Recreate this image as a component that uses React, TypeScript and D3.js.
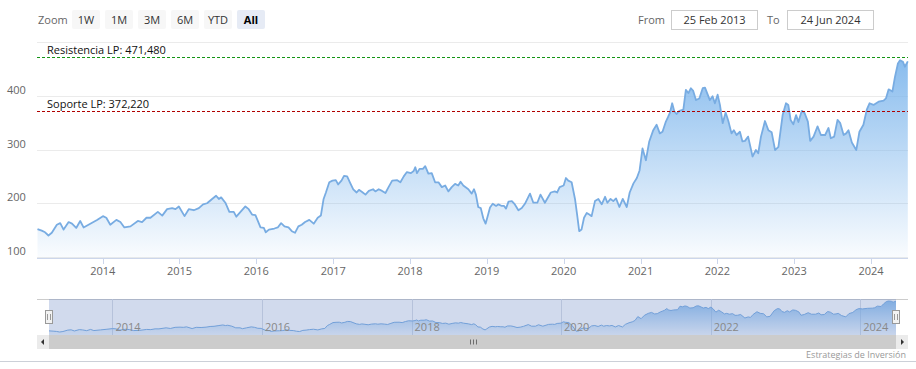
import * as d3 from 'd3';

// weekly-ish closes
const dates: string[] = [
  "2013-02-25","2013-03-17","2013-04-02","2013-04-18","2013-05-04","2013-05-28","2013-06-13","2013-06-29","2013-07-23","2013-08-08","2013-08-28","2013-09-16","2013-10-02","2013-11-03","2013-12-05",
  "2014-01-02","2014-01-18","2014-02-06","2014-03-07","2014-03-26","2014-04-14","2014-05-13","2014-06-17","2014-07-07","2014-07-28","2014-08-16","2014-09-20","2014-10-11","2014-11-03","2014-11-27","2014-12-13","2014-12-29",
  "2015-01-25","2015-02-14","2015-03-10","2015-04-03","2015-04-23","2015-05-12","2015-06-05","2015-06-24","2015-07-07","2015-07-18","2015-08-07","2015-08-26","2015-09-16","2015-09-28","2015-10-18","2015-11-10","2015-11-26","2015-12-12","2015-12-28",
  "2016-01-21","2016-02-06","2016-02-15","2016-03-01","2016-03-27","2016-04-12","2016-04-28","2016-05-14","2016-06-02","2016-06-18","2016-07-03","2016-07-19","2016-08-04","2016-08-20","2016-09-09","2016-09-30","2016-10-19","2016-11-03","2016-11-16","2016-11-27","2016-12-13","2016-12-28",
  "2017-01-13","2017-01-24","2017-02-09","2017-02-21","2017-03-08","2017-03-21","2017-04-06","2017-04-22","2017-05-03","2017-05-18","2017-06-03","2017-06-19","2017-07-09","2017-07-20","2017-08-05","2017-08-21","2017-09-06","2017-09-22","2017-10-08","2017-11-01","2017-11-16","2017-12-02","2017-12-17",
  "2018-01-05","2018-01-18","2018-01-26","2018-02-03","2018-02-15","2018-03-03","2018-03-14","2018-03-29","2018-04-14","2018-04-30","2018-05-16","2018-06-01","2018-06-17","2018-07-02","2018-07-18","2018-08-03","2018-08-18","2018-08-29","2018-09-11","2018-10-05","2018-10-21","2018-11-01","2018-11-10","2018-11-21","2018-12-03","2018-12-15","2018-12-26",
  "2019-01-03","2019-01-16","2019-01-29","2019-02-14","2019-02-25","2019-03-13","2019-03-24","2019-04-02","2019-04-14","2019-04-30","2019-05-12","2019-05-31","2019-06-16","2019-07-01","2019-07-25","2019-08-10","2019-08-29","2019-09-13","2019-10-04","2019-11-01","2019-11-20","2019-12-01","2019-12-13",
  "2020-01-01","2020-01-12","2020-01-23","2020-02-08","2020-02-24","2020-03-06","2020-03-15","2020-03-26","2020-04-07","2020-04-20","2020-05-02","2020-05-13","2020-05-29","2020-06-14","2020-06-30","2020-07-16","2020-07-27","2020-08-11","2020-08-24","2020-09-06","2020-09-22","2020-10-08","2020-10-27","2020-11-10","2020-11-28","2020-12-14","2020-12-27",
  "2021-01-10","2021-01-26","2021-02-11","2021-03-02","2021-03-18","2021-04-02","2021-04-15","2021-05-01","2021-05-12","2021-05-20","2021-05-31","2021-06-10","2021-06-21","2021-07-04","2021-07-23","2021-08-04","2021-08-16","2021-08-28","2021-09-08","2021-09-21","2021-10-07","2021-10-23","2021-11-03","2021-11-15","2021-11-26","2021-12-09","2021-12-20",
  "2022-01-02","2022-01-13","2022-01-26","2022-02-09","2022-02-22","2022-03-09","2022-03-20","2022-04-02","2022-04-18","2022-04-30","2022-05-12","2022-05-27","2022-06-17","2022-07-03","2022-07-14","2022-07-27","2022-08-15","2022-08-31","2022-09-16","2022-10-02","2022-10-18","2022-11-07","2022-11-23","2022-12-04","2022-12-15","2022-12-28",
  "2023-01-10","2023-01-21","2023-02-06","2023-02-19","2023-03-07","2023-03-18","2023-04-03","2023-04-22","2023-05-08","2023-05-28","2023-06-13","2023-06-24","2023-07-10","2023-07-26","2023-08-08","2023-08-24","2023-09-05","2023-09-16","2023-10-02","2023-10-23","2023-11-07","2023-11-26","2023-12-12","2023-12-25",
  "2024-01-13","2024-02-06","2024-03-01","2024-03-12","2024-03-25","2024-04-12","2024-04-24","2024-05-08","2024-05-18","2024-06-01","2024-06-10","2024-06-24",
];

const closes: number[] = [
  152,149,146,140,145,160,163,151,165,162,154,167,155,162,169,
  176,173,160,169,165,155,157,167,165,173,173,184,177,189,191,189,194,
  176,189,187,191,198,200,208,214,208,211,201,184,184,175,184,194,189,179,178,
  155,154,146,151,153,155,163,157,155,148,145,157,160,165,169,162,173,177,208,220,239,242,
  243,235,242,251,250,239,226,220,225,221,216,223,226,222,226,223,219,231,242,243,239,250,258,
  256,260,267,256,264,264,269,255,256,239,239,230,233,222,230,236,233,240,233,226,218,226,216,193,191,172,162,
  173,192,199,195,198,195,195,190,203,204,199,187,191,199,218,201,201,216,201,220,222,220,230,
  233,247,242,239,208,176,148,151,173,182,179,176,204,208,198,212,201,208,204,209,193,208,193,220,237,247,261,
  302,280,315,336,346,330,333,352,361,368,386,371,366,372,374,411,405,414,409,392,395,414,415,403,392,399,386,
  402,383,349,369,353,330,336,327,333,315,316,324,287,299,293,324,353,336,332,299,305,364,386,383,355,347,
  364,351,372,368,352,316,324,343,327,327,340,321,324,355,349,327,330,336,313,299,333,346,374,386,
  383,389,391,395,412,408,435,460,466,463,454,464,
];

const yTicks = [100, 200, 300, 400, 500];
const zoomButtons = ["1W", "1M", "3M", "6M", "YTD", "All"];
const plotLineLabels = ["Resistencia LP: 471,480", "Soporte LP: 372,220"];
const plotLineValues = [471.48, 372.22];
const plotLineColors = ["#149414", "#b00000"];
const rangeFrom = "25 Feb 2013";
const rangeTo = "24 Jun 2024";

const W = 916, H = 369;
const font = "'Open Sans', 'Noto Sans', sans-serif";

const App = () => {
  const parse = d3.timeParse("%Y-%m-%d");
  const data = dates.map((d, i) => ({ date: parse(d) as Date, value: closes[i] }));
  const start = parse("2013-02-25") as Date;
  const end = parse("2024-06-24") as Date;

  const plotTop = 42, plotBottom = 258, plotLeft = 37, plotRight = 908;

  const x = d3.scaleTime().domain([start, end]).range([37.5, 907.8]);
  const y = d3.scaleLinear().domain([100, 500]).range([257, 42]);

  const area = d3.area<any>()
    .x(d => x(d.date))
    .y0(plotBottom)
    .y1(d => y(d.value));
  const line = d3.line<any>()
    .x(d => x(d.date))
    .y(d => y(d.value));

  // navigator
  const navTop = 299, navBottom = 335, navLeft = 49, navRight = 896;
  const xn = d3.scaleTime().domain([start, end]).range([navLeft, navRight]);
  const yn = d3.scaleLinear()
    .domain([d3.min(closes) as number, d3.max(closes) as number])
    .range([332, 301]);
  const navArea = d3.area<any>()
    .x(d => xn(d.date))
    .y0(navBottom)
    .y1(d => yn(d.value));
  const navLine = d3.line<any>()
    .x(d => xn(d.date))
    .y(d => yn(d.value));

  const yearTicks = x.ticks(d3.timeYear.every(1) as any);
  const navTicks = xn.ticks(d3.timeYear.every(2) as any);
  const fmt = d3.timeFormat("%Y");

  const scrollMid = Math.round((navLeft + navRight) / 2);

  return (
    <div style={{ position: "absolute", left: 0, top: 0 }}>
      <svg width={W} height={H} style={{ display: "block", fontFamily: font }}>
        <defs>
          <linearGradient id="mainFill" gradientUnits="userSpaceOnUse" x1={0} y1={plotTop} x2={0} y2={plotBottom}>
            <stop offset="0" stopColor="#7cb5ec" stopOpacity={0.98} />
            <stop offset="1" stopColor="#7cb5ec" stopOpacity={0.04} />
          </linearGradient>
          <linearGradient id="navFill" gradientUnits="userSpaceOnUse" x1={0} y1={navTop} x2={0} y2={navBottom}>
            <stop offset="0" stopColor="#7cb5ec" stopOpacity={0.9} />
            <stop offset="1" stopColor="#7cb5ec" stopOpacity={0.1} />
          </linearGradient>
          <clipPath id="plotClip">
            <rect x={plotLeft} y={plotTop - 2} width={plotRight - plotLeft + 1} height={plotBottom - plotTop + 2} />
          </clipPath>
        </defs>
        <rect width={W} height={H} fill="#fff" />

        {/* range selector */}
        <text x={38} y={24} fontSize={11} fill="#666">Zoom</text>
        {zoomButtons.map((b, i) => {
          const bx = 72 + i * 33;
          const sel = b === "All";
          return (
            <g key={b}>
              <rect x={bx} y={10} width={28} height={19} rx={2} fill={sel ? "#e6ebf5" : "#f7f7f7"} />
              <text x={bx + 14} y={24} textAnchor="middle" fontSize={11}
                fill={sel ? "#000" : "#333"} fontWeight={sel ? "bold" : "normal"}>{b}</text>
            </g>
          );
        })}
        <text x={638} y={24} fontSize={11} fill="#666">From</text>
        <rect x={671.5} y={10.5} width={86} height={19} fill="#fff" stroke="#ccc" />
        <text x={714.5} y={24} fontSize={11} textAnchor="middle" fill="#333">{rangeFrom}</text>
        <text x={767} y={24} fontSize={11} fill="#666">To</text>
        <rect x={787.5} y={10.5} width={86} height={19} fill="#fff" stroke="#ccc" />
        <text x={830.5} y={24} fontSize={11} textAnchor="middle" fill="#333">{rangeTo}</text>

        {/* grid */}
        {yTicks.map(t => (
          <line key={t} x1={plotLeft} x2={plotRight} y1={Math.round(y(t)) + 0.5} y2={Math.round(y(t)) + 0.5} stroke="#ebebeb" />
        ))}
        {yTicks.filter(t => t < 500).map(t => (
          <text key={t} x={7} y={y(t) - 2} fontSize={11} fill="#666">{t}</text>
        ))}

        {/* series */}
        <g clipPath="url(#plotClip)">
          <path d={area(data) as string} fill="url(#mainFill)" />
          <path d={line(data) as string} fill="none" stroke="#78ace2" strokeWidth={1.8} strokeLinejoin="round" />
        </g>

        {/* x axis */}
        <line x1={plotLeft} x2={plotRight} y1={258.5} y2={258.5} stroke="#ccd6eb" />
        {yearTicks.map(t => (
          <g key={+t}>
            <line x1={Math.round(x(t)) + 0.5} x2={Math.round(x(t)) + 0.5} y1={258} y2={264} stroke="#ccd6eb" />
            <text x={x(t)} y={275} fontSize={11} textAnchor="middle" fill="#666">{fmt(t)}</text>
          </g>
        ))}

        {/* plot lines */}
        {plotLineValues.map((v, i) => (
          <g key={v}>
            <line x1={plotLeft} x2={plotRight} y1={Math.round(y(v)) + 0.5} y2={Math.round(y(v)) + 0.5}
              stroke={plotLineColors[i]} strokeDasharray="3,2" shapeRendering="crispEdges" />
            <text x={47} y={y(v) - 3} fontSize={11} fill="#111">{plotLineLabels[i]}</text>
          </g>
        ))}

        {/* navigator */}
        <line x1={plotLeft} x2={plotRight} y1={navTop + 0.5} y2={navTop + 0.5} stroke="#ccc" />
        {navTicks.map(t => (
          <line key={+t} x1={Math.round(xn(t)) + 0.5} x2={Math.round(xn(t)) + 0.5} y1={navTop} y2={navBottom} stroke="#d8dde6" />
        ))}
        <path d={navArea(data) as string} fill="url(#navFill)" />
        <path d={navLine(data) as string} fill="none" stroke="#78ace2" strokeWidth={1} />
        <rect x={navLeft} y={navTop} width={navRight - navLeft} height={navBottom - navTop} fill="rgba(102,133,194,0.3)" />
        {navTicks.map(t => (
          <text key={+t} x={xn(t) + 3} y={331} fontSize={11} fill="#888">{fmt(t)}</text>
        ))}
        {[navLeft, navRight].map(hx => (
          <g key={hx}>
            <rect x={hx - 3.5} y={310.5} width={7} height={13} fill="#f2f2f2" stroke="#999" />
            <line x1={hx - 1.5} x2={hx - 1.5} y1={314} y2={320} stroke="#999" />
            <line x1={hx + 1.5} x2={hx + 1.5} y1={314} y2={320} stroke="#999" />
          </g>
        ))}

        {/* scrollbar */}
        <rect x={plotLeft} y={335} width={plotRight - plotLeft} height={14} fill="#f2f2f2" />
        <rect x={navLeft} y={335} width={navRight - navLeft} height={14} fill="#cccccc" />
        <rect x={plotLeft} y={335} width={12} height={14} fill="#ebebeb" />
        <rect x={navRight} y={335} width={12} height={14} fill="#ebebeb" />
        <path d={`M${plotLeft + 4},342 L${plotLeft + 7},339 L${plotLeft + 7},345 Z`} fill="#333" />
        <path d={`M${navRight + 8},342 L${navRight + 5},339 L${navRight + 5},345 Z`} fill="#333" />
        {[-3, 0, 3].map(o => (
          <line key={o} x1={scrollMid + o + 0.5} x2={scrollMid + o + 0.5} y1={339.5} y2={344.5} stroke="#555" strokeWidth={0.8} />
        ))}

        {/* credits + border */}
        <text x={906} y={358} fontSize={9} textAnchor="end" fill="#999">Estrategias de Inversión</text>
        <line x1={0} x2={W} y1={361.5} y2={361.5} stroke="#ccd0d8" />
      </svg>
    </div>
  );
};

export default App;
